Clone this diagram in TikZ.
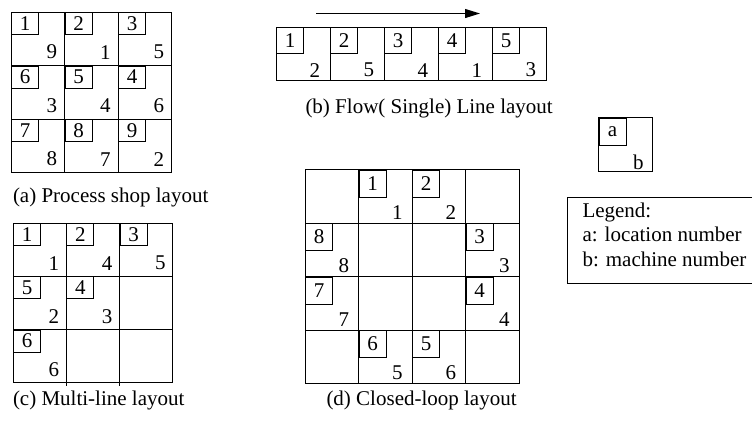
\documentclass[tikz,border=0pt]{standalone}
\usepackage{fontspec}
\setmainfont{Liberation Serif}
\usetikzlibrary{arrows.meta}
\tikzset{
  every picture/.style={line width=1bp},
  loc/.style={draw, anchor=north west, inner sep=0pt, minimum width=27bp, minimum height=#1},
  loc/.default=22bp,
  mc/.style={anchor=south east, inner sep=0pt, xshift=-7bp, yshift=6bp},
  mcb/.style={mc, xshift=-2bp, yshift=-3bp},
  caption/.style={anchor=base west, inner sep=0pt},
  flow/.style={-{Triangle[length=15bp, width=9bp]}},
}
% location box in the top left corner of a cell, machine number bottom right
\newcommand{\site}[7]{%
  \node[#6] (#1-loc) at (#2,#3) {#4};
  \node[#7] (#1-mc) at (#2+53.5,#3+53.5) {#5};}

\begin{document}
\begin{tikzpicture}[x=1bp, y=-1bp, font=\fontsize{21bp}{24.5bp}\selectfont]
  \useasboundingbox (0,0) rectangle (752,422);

  % (a) process shop
  \draw (11,12) rectangle (171.5,172.5)
    (64.5,12) -- (64.5,172.5) (118,12) -- (118,172.5)
    (11,65.5) -- (171.5,65.5) (11,119) -- (171.5,119);
  \site{a1}{11}{12}{1}{9}{loc}{mc}
  \site{a2}{64.5}{12}{2}{1}{loc}{mc}
  \site{a3}{118}{12}{3}{5}{loc}{mc}
  \site{a6}{11}{65.5}{6}{3}{loc}{mc}
  \site{a5}{64.5}{65.5}{5}{4}{loc}{mc}
  \site{a4}{118}{65.5}{4}{6}{loc}{mc}
  \site{a7}{11}{119}{7}{8}{loc}{mc}
  \site{a8}{64.5}{119}{8}{7}{loc}{mc}
  \site{a9}{118}{119}{9}{2}{loc}{mc}
  \node[caption] (cap-a) at (12.5,202) {(a) Process shop layout};

  % (b) flow line
  \coordinate (flow-tail) at (316,13.5);
  \coordinate (flow-head) at (480,13.5);
  \draw[flow] (flow-tail) -- (flow-head);
  \draw (276,27) rectangle (546,80.5)
    (330,27) -- (330,80.5) (384,27) -- (384,80.5)
    (438,27) -- (438,80.5) (492,27) -- (492,80.5);
  \site{b1}{276}{27}{1}{2}{loc=26bp}{mcb}
  \site{b2}{330}{27}{2}{5}{loc=26bp}{mcb}
  \site{b3}{384}{27}{3}{4}{loc=26bp}{mcb}
  \site{b4}{438}{27}{4}{1}{loc=26bp}{mcb}
  \site{b5}{492}{27}{5}{3}{loc=26bp}{mcb}
  \node[caption] (cap-b) at (305,113.5) {(b) Flow( Single) Line layout};

  % (c) multi-line, inner columns run a little past the bottom
  \draw (13,223) rectangle (172.9,382.9)
    (66.3,223) -- (66.3,385.5) (119.6,223) -- (119.6,385.5)
    (13,276.3) -- (172.9,276.3) (13,329.6) -- (172.9,329.6);
  \site{c1}{13}{223}{1}{1}{loc}{mc}
  \site{c2}{66.3}{223}{2}{4}{loc}{mc}
  \site{c3}{119.6}{223}{3}{5}{loc}{mc}
  \site{c5}{13}{276.3}{5}{2}{loc}{mc}
  \site{c4}{66.3}{276.3}{4}{3}{loc}{mc}
  \site{c6}{13}{329.6}{6}{6}{loc}{mc}
  \node[caption] (cap-c) at (12.5,405) {(c) Multi-line layout};

  % (d) closed loop
  \draw (305,169.5) rectangle (519,383.5)
    (358.5,169.5) -- (358.5,383.5) (412,169.5) -- (412,383.5) (465.5,169.5) -- (465.5,383.5)
    (305,223) -- (519,223) (305,276.5) -- (519,276.5) (305,330) -- (519,330);
  \site{d1}{358.5}{169.5}{1}{1}{loc=27bp}{mcb}
  \site{d2}{412}{169.5}{2}{2}{loc=27bp}{mcb}
  \site{d8}{305}{223}{8}{8}{loc=27bp}{mcb}
  \site{d3}{465.5}{223}{3}{3}{loc=27bp}{mcb}
  \site{d7}{305}{276.5}{7}{7}{loc=27bp}{mcb}
  \site{d4}{465.5}{276.5}{4}{4}{loc=27bp}{mcb}
  \site{d6}{358.5}{330}{6}{5}{loc=27bp}{mcb}
  \site{d5}{412}{330}{5}{6}{loc=27bp}{mcb}
  \node[caption] (cap-d) at (326,405) {(d) Closed-loop layout};

  % legend
  \draw (598.5,117.5) rectangle (652,171);
  \site{key}{598.5}{117.5}{a}{b}{loc=27bp}{mc, xshift=-1bp, yshift=-5bp}
  \draw (567.5,197) rectangle (760,283.5);
  \node[anchor=north west, inner sep=0pt, align=left] (legend) at (582,202)
    {Legend:\\a: location number\\b: machine number};
\end{tikzpicture}
\end{document}
